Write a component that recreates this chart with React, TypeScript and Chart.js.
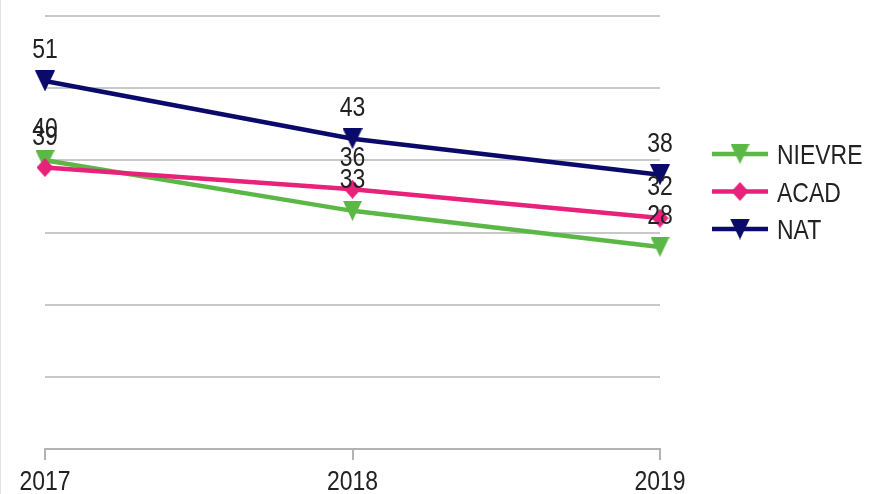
import React, { useEffect, useRef } from 'react';
import { Chart, registerables } from 'chart.js';

Chart.register(...registerables);

const categories = ['2017', '2018', '2019'];
const seriesNames = ['NIEVRE', 'ACAD', 'NAT'];
const nievreValues = [40, 33, 28];
const acadValues = [39, 36, 32];
const natValues = [51, 43, 38];
const yMin = 0;
const yMax = 60;
const yStep = 10;

const COLORS = ['#5cb846', '#e8217b', '#0a0a6a'];
const FONT = "'Liberation Sans', Arial, sans-serif";
const FONT_SIZE = 28;
const NARROW = 0.82;
const TEXT_COLOR = '#222222';

function drawNarrowText(
  ctx: CanvasRenderingContext2D,
  text: string,
  x: number,
  y: number,
  align: CanvasTextAlign,
  baseline: CanvasTextBaseline
) {
  ctx.save();
  ctx.translate(x, y);
  ctx.scale(NARROW, 1);
  ctx.font = `${FONT_SIZE}px ${FONT}`;
  ctx.fillStyle = TEXT_COLOR;
  ctx.textAlign = align;
  ctx.textBaseline = baseline;
  ctx.fillText(text, 0, 0);
  ctx.restore();
}

function makeTriangleDown(color: string, w: number, h: number) {
  const c = document.createElement('canvas');
  c.width = w;
  c.height = h;
  const ctx = c.getContext('2d')!;
  ctx.fillStyle = color;
  ctx.beginPath();
  ctx.moveTo(0, 0);
  ctx.lineTo(w, 0);
  ctx.lineTo(w / 2, h);
  ctx.closePath();
  ctx.fill();
  return c;
}

function makeDiamond(color: string, w: number, h: number) {
  const c = document.createElement('canvas');
  c.width = w;
  c.height = h;
  const ctx = c.getContext('2d')!;
  ctx.fillStyle = color;
  ctx.beginPath();
  ctx.moveTo(w / 2, 0);
  ctx.lineTo(w, h / 2);
  ctx.lineTo(w / 2, h);
  ctx.lineTo(0, h / 2);
  ctx.closePath();
  ctx.fill();
  return c;
}

export default function App() {
  const canvasRef = useRef<HTMLCanvasElement | null>(null);

  useEffect(() => {
    document.body.style.margin = '0';
    const canvas = canvasRef.current;
    if (!canvas) return;

    const markers = [
      makeTriangleDown(COLORS[0], 19, 20),
      makeDiamond(COLORS[1], 17, 19),
      makeTriangleDown(COLORS[2], 20, 21),
    ];
    const values = [nievreValues, acadValues, natValues];

    const textPlugin = {
      id: 'textPlugin',
      beforeDraw(chart: any) {
        const ctx = chart.ctx;
        ctx.save();
        ctx.fillStyle = '#e2e2e2';
        ctx.fillRect(0, 0, 1, chart.height);
        ctx.restore();
      },
      afterDatasetsDraw(chart: any) {
        const ctx = chart.ctx;
        chart.data.datasets.forEach((ds: any, i: number) => {
          const meta = chart.getDatasetMeta(i);
          meta.data.forEach((pt: any, j: number) => {
            drawNarrowText(ctx, String(ds.data[j]), pt.x, pt.y - 23, 'center', 'alphabetic');
          });
        });
      },
      afterDraw(chart: any) {
        const ctx = chart.ctx;
        // x-axis category labels, positioned by the category scale
        const xScale = chart.scales.x;
        categories.forEach((cat, i) => {
          const px = xScale.getPixelForValue(i);
          drawNarrowText(ctx, cat, px, 490, 'center', 'alphabetic');
        });
        // legend
        const x0 = 712;
        const x1 = 768;
        const rows = [154, 191.5, 229];
        seriesNames.forEach((name, i) => {
          const y = rows[i];
          ctx.save();
          ctx.strokeStyle = COLORS[i];
          ctx.lineWidth = 4.5;
          ctx.beginPath();
          ctx.moveTo(x0, y);
          ctx.lineTo(x1, y);
          ctx.stroke();
          const m = markers[i];
          ctx.drawImage(m, (x0 + x1) / 2 - m.width / 2, y - m.height / 2);
          ctx.restore();
          drawNarrowText(ctx, name, 777, y + 10, 'left', 'alphabetic');
        });
      },
    };

    const chart = new Chart(canvas, {
      type: 'line',
      data: {
        labels: categories,
        datasets: seriesNames.map((name, i) => ({
          label: name,
          data: values[i],
          borderColor: COLORS[i],
          backgroundColor: COLORS[i],
          borderWidth: 4.5,
          pointStyle: markers[i] as any,
          pointRadius: 10,
          pointHoverRadius: 10,
          tension: 0,
          fill: false,
          order: 3 - i,
        })),
      },
      options: {
        responsive: false,
        animation: false,
        events: [],
        layout: { padding: { left: 45, right: 211, top: 16, bottom: 34 } },
        plugins: {
          legend: { display: false },
          tooltip: { enabled: false },
          title: { display: false },
        },
        scales: {
          x: {
            type: 'category',
            offset: false,
            grid: {
              display: true,
              drawOnChartArea: false,
              drawTicks: true,
              tickLength: 11,
              color: '#b3b3b3',
              lineWidth: 2,
            },
            border: { display: true, color: '#b3b3b3', width: 2 },
            ticks: { display: false, autoSkip: false },
          },
          y: {
            min: yMin,
            max: yMax,
            ticks: { display: false, stepSize: yStep },
            grid: { color: '#c8c8c8', lineWidth: 2, drawTicks: false },
            border: { display: false },
          },
        },
      },
      plugins: [textPlugin],
    });

    return () => chart.destroy();
  }, []);

  return (
    <div style={{ width: 871, height: 494, background: '#ffffff' }}>
      <canvas ref={canvasRef} width={871} height={494} style={{ display: 'block', width: 871, height: 494 }} />
    </div>
  );
}
